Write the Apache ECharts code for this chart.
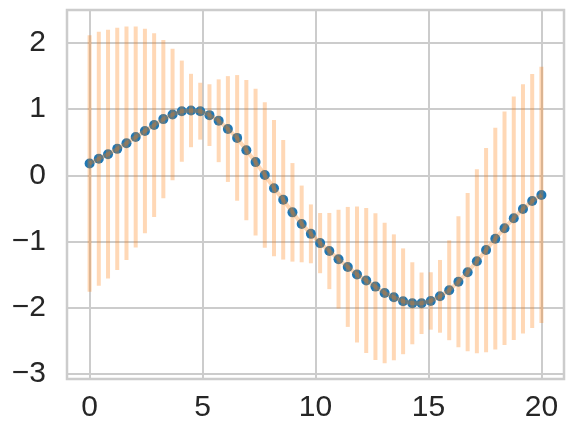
<!DOCTYPE html>
<html>
<head>
<meta charset="utf-8">
<script src="https://cdn.jsdelivr.net/npm/echarts@6/dist/echarts.min.js"></script>
<style>html,body{margin:0;padding:0;background:#fff}#c{width:572px;height:440px}</style>
</head>
<body>
<div id="c"></div>
<script>
const xValues = [0, 0.408, 0.816, 1.224, 1.633, 2.041, 2.449, 2.857, 3.265, 3.673,
  4.082, 4.49, 4.898, 5.306, 5.714, 6.122, 6.531, 6.939, 7.347, 7.755,
  8.163, 8.571, 8.98, 9.388, 9.796, 10.204, 10.612, 11.02, 11.429, 11.837,
  12.245, 12.653, 13.061, 13.469, 13.878, 14.286, 14.694, 15.102, 15.51, 15.918,
  16.327, 16.735, 17.143, 17.551, 17.959, 18.367, 18.776, 19.184, 19.592, 20];
const yValues = [0.18, 0.25, 0.32, 0.40, 0.485, 0.58, 0.67, 0.76, 0.85, 0.92,
  0.97, 0.98, 0.97, 0.91, 0.825, 0.70, 0.566, 0.38, 0.20, 0.005,
  -0.195, -0.37, -0.56, -0.735, -0.885, -1.025, -1.145, -1.268, -1.385, -1.50,
  -1.59, -1.683, -1.78, -1.845, -1.905, -1.935, -1.935, -1.90, -1.83, -1.738,
  -1.61, -1.465, -1.30, -1.13, -0.958, -0.80, -0.648, -0.508, -0.388, -0.297];
const yErrors = [1.94, 1.92, 1.88, 1.83, 1.765, 1.67, 1.545, 1.39, 1.195, 0.995,
  0.765, 0.555, 0.43, 0.467, 0.626, 0.80, 0.95, 1.06, 1.11, 1.10,
  1.03, 0.904, 0.745, 0.58, 0.445, 0.455, 0.576, 0.747, 0.907, 1.028,
  1.096, 1.109, 1.063, 0.952, 0.80, 0.62, 0.465, 0.434, 0.55, 0.755,
  0.99, 1.197, 1.39, 1.545, 1.677, 1.765, 1.841, 1.884, 1.92, 1.937];
const xTicks = [0, 5, 10, 15, 20];
const yTicks = [-3, -2, -1, 0, 1, 2];

const points = xValues.map((x, i) => [x, yValues[i]]);
const bars = xValues.map((x, i) => [x, yValues[i] - yErrors[i], yValues[i] + yErrors[i]]);
const fmt = v => (v < 0 ? '\u2212' + Math.abs(v) : String(v));
const gridColor = '#cccccc';
const labelStyle = { color: '#262626', fontSize: 30, fontFamily: 'Liberation Sans, Arial, sans-serif' };

const chart = echarts.init(document.getElementById('c'), null, { renderer: 'canvas' });
chart.setOption({
  animation: false,
  backgroundColor: '#ffffff',
  grid: { left: 67, right: 8, top: 10, bottom: 61, show: true, borderColor: gridColor, borderWidth: 2.5, backgroundColor: 'transparent' },
  xAxis: {
    type: 'value', min: -1, max: 21,
    axisLine: { show: false },
    axisTick: { show: false, customValues: xTicks },
    axisLabel: Object.assign({ customValues: xTicks, formatter: fmt, margin: 14 }, labelStyle),
    splitLine: { show: true, lineStyle: { color: gridColor, width: 2 } }
  },
  yAxis: {
    type: 'value', min: -3.08, max: 2.5,
    axisLine: { show: false },
    axisTick: { show: false, customValues: yTicks },
    axisLabel: Object.assign({ customValues: yTicks, formatter: fmt, margin: 21 }, labelStyle),
    splitLine: { show: true, lineStyle: { color: gridColor, width: 2 } }
  },
  series: [
    {
      type: 'scatter', data: points, symbol: 'circle', symbolSize: 10,
      itemStyle: { color: '#1f77b4', opacity: 1 }, z: 2
    },
    {
      type: 'line', data: points, showSymbol: false, symbol: 'none',
      lineStyle: { color: '#ff7f0e', width: 4, opacity: 0.3 }, z: 3
    },
    {
      type: 'custom', data: bars, z: 4,
      renderItem: (params, api) => {
        const x = api.value(0);
        const p1 = api.coord([x, api.value(1)]);
        const p2 = api.coord([x, api.value(2)]);
        return {
          type: 'line',
          shape: { x1: p1[0], y1: p1[1], x2: p2[0], y2: p2[1] },
          style: { stroke: '#ff7f0e', lineWidth: 4, opacity: 0.3 }
        };
      },
      encode: { x: 0, y: [1, 2] }
    }
  ]
});
</script>
</body>
</html>
